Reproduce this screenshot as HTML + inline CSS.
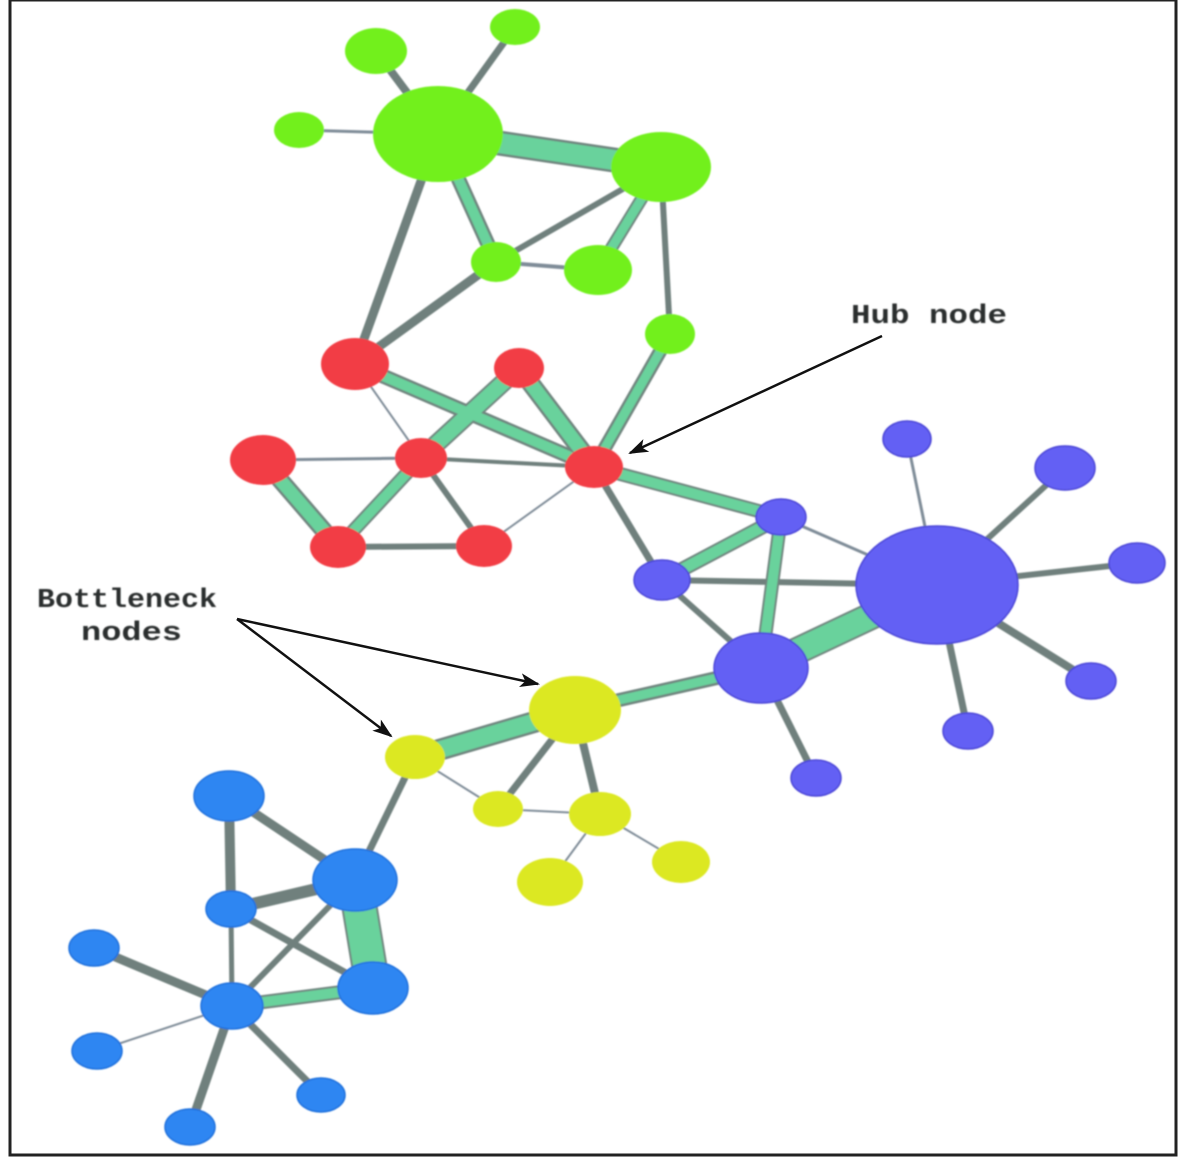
<!DOCTYPE html>
<html><head><meta charset="utf-8"><style>
html,body{margin:0;padding:0;background:#fff;width:1181px;height:1158px;overflow:hidden}
svg{display:block}
text{font-family:"Liberation Mono","DejaVu Sans Mono",monospace;font-size:27px;font-weight:bold;fill:#2c2f2f}
.g line{stroke:#6f807d}
.t line{stroke:#69d29c}
.u line{stroke:#70857f}
.f line{stroke:#7f8c98}
</style></head><body>
<svg width="1181" height="1158" viewBox="0 0 1181 1158" xmlns="http://www.w3.org/2000/svg">
<defs>
<filter id="b" x="-10%" y="-10%" width="120%" height="120%"><feGaussianBlur stdDeviation="0.7"/></filter>
<filter id="tb" x="-10%" y="-30%" width="120%" height="160%"><feGaussianBlur stdDeviation="0.9"/></filter>
<marker id="a" markerWidth="20" markerHeight="14" refX="18" refY="7" orient="auto" markerUnits="userSpaceOnUse"><path d="M0 0L20 7L0 14L5 7Z" fill="#111"/></marker>
</defs>
<rect x="0" y="0" width="1181" height="1158" fill="#fff"/>
<rect x="10" y="0" width="1166" height="1155" fill="#fff" stroke="#222" stroke-width="3"/>
<g filter="url(#b)">
<g class="f">
<line x1="299" y1="130" x2="438" y2="134" stroke-width="3"/>
<line x1="355" y1="364" x2="421" y2="458" stroke-width="2"/>
<line x1="594" y1="467" x2="484" y2="546" stroke-width="2"/>
<line x1="263" y1="460" x2="421" y2="458" stroke-width="3"/>
<line x1="907" y1="439" x2="937" y2="585" stroke-width="3"/>
<line x1="781" y1="517" x2="937" y2="585" stroke-width="3"/>
<line x1="415" y1="757" x2="498" y2="809" stroke-width="2"/>
<line x1="498" y1="809" x2="600" y2="814" stroke-width="2"/>
<line x1="600" y1="814" x2="550" y2="882" stroke-width="2"/>
<line x1="600" y1="814" x2="681" y2="862" stroke-width="2"/>
<line x1="232" y1="1006" x2="97" y2="1051" stroke-width="2"/>
<line x1="496" y1="262" x2="598" y2="270" stroke-width="4"/>
</g>
<g class="g">
<line x1="376" y1="51" x2="438" y2="134" stroke-width="8"/>
<line x1="515" y1="27" x2="438" y2="134" stroke-width="7"/>
<line x1="438" y1="134" x2="355" y2="364" stroke-width="9"/>
<line x1="661" y1="167" x2="496" y2="262" stroke-width="6"/>
<line x1="661" y1="167" x2="670" y2="334" stroke-width="6"/>
<line x1="496" y1="262" x2="355" y2="364" stroke-width="9"/>
<line x1="338" y1="547" x2="484" y2="546" stroke-width="6"/>
<line x1="421" y1="458" x2="484" y2="546" stroke-width="6"/>
<line x1="421" y1="458" x2="594" y2="467" stroke-width="4"/>
<line x1="594" y1="467" x2="662" y2="580" stroke-width="7"/>
<line x1="662" y1="580" x2="937" y2="585" stroke-width="6"/>
<line x1="662" y1="580" x2="761" y2="668" stroke-width="6"/>
<line x1="1065" y1="468" x2="937" y2="585" stroke-width="6"/>
<line x1="1137" y1="563" x2="937" y2="585" stroke-width="6"/>
<line x1="1091" y1="681" x2="937" y2="585" stroke-width="8"/>
<line x1="968" y1="731" x2="937" y2="585" stroke-width="7"/>
<line x1="816" y1="778" x2="761" y2="668" stroke-width="7"/>
<line x1="575" y1="710" x2="498" y2="809" stroke-width="7"/>
<line x1="575" y1="710" x2="600" y2="814" stroke-width="8"/>
<line x1="415" y1="757" x2="355" y2="880" stroke-width="7"/>
<line x1="229" y1="796" x2="355" y2="880" stroke-width="9"/>
<line x1="229" y1="796" x2="231" y2="909" stroke-width="10"/>
<line x1="231" y1="909" x2="355" y2="880" stroke-width="12"/>
<line x1="231" y1="909" x2="373" y2="988" stroke-width="7"/>
<line x1="231" y1="909" x2="232" y2="1006" stroke-width="5"/>
<line x1="355" y1="880" x2="232" y2="1006" stroke-width="6"/>
<line x1="94" y1="948" x2="232" y2="1006" stroke-width="9"/>
<line x1="190" y1="1127" x2="232" y2="1006" stroke-width="9"/>
<line x1="321" y1="1095" x2="232" y2="1006" stroke-width="7"/>
</g>
<g class="u">
<line x1="438" y1="134" x2="661" y2="167" stroke-width="25"/>
<line x1="438" y1="134" x2="496" y2="262" stroke-width="15"/>
<line x1="661" y1="167" x2="598" y2="270" stroke-width="13"/>
<line x1="670" y1="334" x2="594" y2="467" stroke-width="14"/>
<line x1="355" y1="364" x2="594" y2="467" stroke-width="15"/>
<line x1="519" y1="368" x2="594" y2="467" stroke-width="19"/>
<line x1="519" y1="368" x2="421" y2="458" stroke-width="19"/>
<line x1="421" y1="458" x2="338" y2="547" stroke-width="14"/>
<line x1="263" y1="460" x2="338" y2="547" stroke-width="18"/>
<line x1="594" y1="467" x2="781" y2="517" stroke-width="14"/>
<line x1="781" y1="517" x2="662" y2="580" stroke-width="15"/>
<line x1="781" y1="517" x2="761" y2="668" stroke-width="14"/>
<line x1="937" y1="585" x2="761" y2="668" stroke-width="28"/>
<line x1="761" y1="668" x2="575" y2="710" stroke-width="14"/>
<line x1="575" y1="710" x2="415" y2="757" stroke-width="22"/>
<line x1="355" y1="880" x2="373" y2="988" stroke-width="36"/>
<line x1="373" y1="988" x2="232" y2="1006" stroke-width="14"/>
</g>
<g class="t">
<line x1="438" y1="134" x2="661" y2="167" stroke-width="20"/>
<line x1="438" y1="134" x2="496" y2="262" stroke-width="10"/>
<line x1="661" y1="167" x2="598" y2="270" stroke-width="9"/>
<line x1="670" y1="334" x2="594" y2="467" stroke-width="9"/>
<line x1="355" y1="364" x2="594" y2="467" stroke-width="10"/>
<line x1="519" y1="368" x2="594" y2="467" stroke-width="14"/>
<line x1="519" y1="368" x2="421" y2="458" stroke-width="15"/>
<line x1="421" y1="458" x2="338" y2="547" stroke-width="10"/>
<line x1="263" y1="460" x2="338" y2="547" stroke-width="13"/>
<line x1="594" y1="467" x2="781" y2="517" stroke-width="10"/>
<line x1="781" y1="517" x2="662" y2="580" stroke-width="11"/>
<line x1="781" y1="517" x2="761" y2="668" stroke-width="10"/>
<line x1="937" y1="585" x2="761" y2="668" stroke-width="24"/>
<line x1="761" y1="668" x2="575" y2="710" stroke-width="9"/>
<line x1="575" y1="710" x2="415" y2="757" stroke-width="17"/>
<line x1="355" y1="880" x2="373" y2="988" stroke-width="32"/>
<line x1="373" y1="988" x2="232" y2="1006" stroke-width="10"/>
</g>
<g fill="#72f01e">
<ellipse cx="376" cy="51" rx="31" ry="23"/>
<ellipse cx="515" cy="27" rx="25" ry="18"/>
<ellipse cx="299" cy="130" rx="25" ry="18"/>
<ellipse cx="438" cy="134" rx="65" ry="48"/>
<ellipse cx="661" cy="167" rx="50" ry="35"/>
<ellipse cx="496" cy="262" rx="25" ry="20"/>
<ellipse cx="598" cy="270" rx="34" ry="25"/>
<ellipse cx="670" cy="334" rx="25" ry="20"/>
</g>
<g fill="#f23c44">
<ellipse cx="355" cy="364" rx="34" ry="26"/>
<ellipse cx="519" cy="368" rx="25" ry="20"/>
<ellipse cx="263" cy="460" rx="33" ry="25"/>
<ellipse cx="421" cy="458" rx="26" ry="20"/>
<ellipse cx="594" cy="467" rx="29" ry="21"/>
<ellipse cx="338" cy="547" rx="28" ry="21"/>
<ellipse cx="484" cy="546" rx="28" ry="21"/>
</g>
<g fill="#6460f4" stroke="#4a44d6" stroke-width="1.5">
<ellipse cx="907" cy="439" rx="24" ry="18"/>
<ellipse cx="1065" cy="468" rx="30" ry="22"/>
<ellipse cx="1137" cy="563" rx="28" ry="20"/>
<ellipse cx="937" cy="585" rx="81" ry="59"/>
<ellipse cx="781" cy="517" rx="25" ry="18"/>
<ellipse cx="662" cy="580" rx="28" ry="20"/>
<ellipse cx="761" cy="668" rx="47" ry="35"/>
<ellipse cx="1091" cy="681" rx="25" ry="18"/>
<ellipse cx="968" cy="731" rx="25" ry="18"/>
<ellipse cx="816" cy="778" rx="25" ry="18"/>
</g>
<g fill="#dce821">
<ellipse cx="575" cy="710" rx="46" ry="34"/>
<ellipse cx="415" cy="757" rx="30" ry="22"/>
<ellipse cx="498" cy="809" rx="25" ry="18"/>
<ellipse cx="600" cy="814" rx="31" ry="22"/>
<ellipse cx="550" cy="882" rx="33" ry="24"/>
<ellipse cx="681" cy="862" rx="29" ry="21"/>
</g>
<g fill="#2f86f2" stroke="#1f6fdc" stroke-width="1.5">
<ellipse cx="229" cy="796" rx="35" ry="25"/>
<ellipse cx="355" cy="880" rx="42" ry="31"/>
<ellipse cx="231" cy="909" rx="25" ry="18"/>
<ellipse cx="373" cy="988" rx="35" ry="26"/>
<ellipse cx="94" cy="948" rx="25" ry="18"/>
<ellipse cx="232" cy="1006" rx="31" ry="23"/>
<ellipse cx="97" cy="1051" rx="25" ry="18"/>
<ellipse cx="321" cy="1095" rx="24" ry="17"/>
<ellipse cx="190" cy="1127" rx="25" ry="18"/>
</g>
</g>
<g stroke="#111" stroke-width="2.5" fill="none">
<line x1="882" y1="336" x2="630" y2="453" marker-end="url(#a)"/>
<line x1="237" y1="619" x2="538" y2="684" marker-end="url(#a)"/>
<line x1="237" y1="619" x2="391" y2="736" marker-end="url(#a)"/>
</g>
<g filter="url(#tb)">
<text x="851" y="323" textLength="156" lengthAdjust="spacingAndGlyphs">Hub node</text>
<text x="37" y="607" textLength="180" lengthAdjust="spacingAndGlyphs">Bottleneck</text>
<text x="81" y="640" textLength="101" lengthAdjust="spacingAndGlyphs">nodes</text>
</g>
</svg>
</body></html>
